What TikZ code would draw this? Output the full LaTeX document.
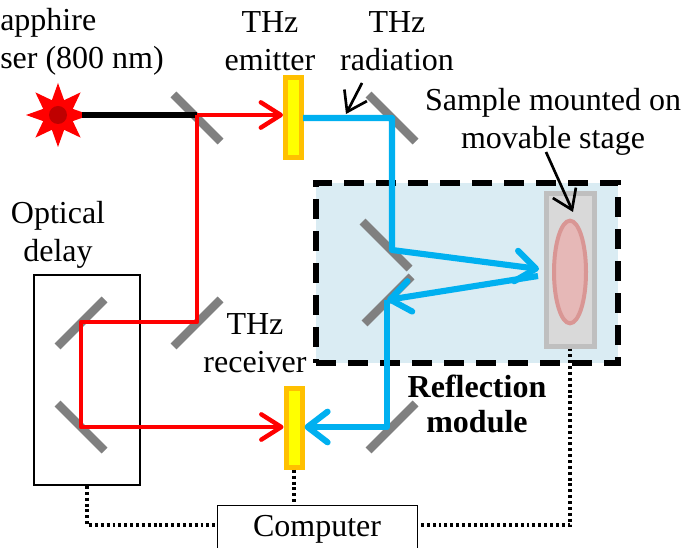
\documentclass[tikz,border=0pt]{standalone}
\usepackage{fontspec}
\setmainfont{Liberation Serif}
\usetikzlibrary{arrows.meta,shapes.geometric}
\definecolor{beamred}{RGB}{255,0,0}
\definecolor{beamblue}{RGB}{0,176,240}
\definecolor{modulefill}{RGB}{218,236,243}
\definecolor{antborder}{RGB}{255,192,0}
\definecolor{antfill}{RGB}{255,255,0}
\definecolor{stageborder}{RGB}{191,191,191}
\definecolor{stagefill}{RGB}{217,217,217}
\definecolor{sampleborder}{RGB}{217,150,148}
\definecolor{samplefill}{RGB}{230,184,183}

\begin{document}
\begin{tikzpicture}[x=0.75pt,y=-0.75pt,
  font=\fontsize{24}{28.5}\selectfont,
  txt/.style={inner sep=0pt,align=center},
  mirror/.style={draw=black!50,line width=6.2pt},
  redbeam/.style={draw=beamred,line width=3.3pt},
  bluebeam/.style={draw=beamblue,line width=4.6pt},
  redtip/.style={-{Straight Barb[length=15pt,width=19pt,round,line width=3.3pt]}},
  bluetip/.style={-{Straight Barb[length=15pt,width=23pt,round,line width=4.6pt]}},
  pointer/.style={black,line width=2pt,-{Straight Barb[length=14pt,width=19pt]}},
  antenna/.style={draw=antborder,fill=antfill,line width=3.75pt,minimum width=12pt,inner sep=0pt},
  wire/.style={black,line width=2.5pt,dash pattern=on 2.2pt off 2.2pt}]
  \clip[use as bounding box] (0,0) rectangle (684,548);

  % ===== reflection module, boxes =====
  \node[draw=black,fill=modulefill,line width=4.2pt,dash pattern=on 15pt off 9pt,inner sep=0pt,
    minimum width=226.5pt,minimum height=135pt] (module) at (467,273) {};
  \node[draw=black,line width=1.5pt,inner sep=0pt,minimum width=79.5pt,minimum height=157.5pt] (delay) at (87,380) {};
  \node[draw=stageborder,fill=stagefill,line width=3.75pt,inner sep=0pt,minimum width=36pt,minimum height=114pt] (stage) at (570,270) {};
  \node[ellipse,draw=sampleborder,fill=samplefill,line width=3pt,inner sep=0pt,minimum width=24pt,minimum height=77pt] (sample) at (570,272) {};
  \node[draw=black,line width=1.1pt,inner sep=0pt,minimum width=150pt,minimum height=60pt,anchor=north west] (computer) at (217,505) {};

  % ===== mirrors =====
  \foreach \mx/\my/\ms in {197/118/1,197/323/-1,81/323/-1,81/427/1,392/118/1,392/427/-1,386/245/1,388/300/-1}{
    \draw[mirror] (\mx-23.5,\my-23.5*\ms) -- (\mx+23.5,\my+23.5*\ms);
  }

  % ===== laser and antennas =====
  \node[star,star points=8,star point ratio=2,fill=beamred,inner sep=0pt,minimum size=48pt] (laser) at (58,115) {};
  \node[circle,fill=red!75!black,inner sep=0pt,minimum size=13.5pt] (laserdot) at (58,115) {};
  \node[antenna,minimum height=60pt] (emitter) at (293.5,117.5) {};
  \node[antenna,minimum height=59pt] (receiver) at (294,428) {};

  % ===== beam corners =====
  \coordinate (laserout) at (82,115);
  \coordinate (splitA) at (197,115);
  \coordinate (splitB) at (197,322);
  \coordinate (delayA) at (81,322);
  \coordinate (delayB) at (81,427);
  \coordinate (thzA) at (392,118);
  \coordinate (thzB) at (392,250);
  \coordinate (thzC) at (387,300);
  \coordinate (thzD) at (387,427);
  \coordinate (stageA) at (539,269);
  \coordinate (stageB) at (538,276);
  \coordinate (emitterout) at (303,118);

  % ===== beams =====
  \draw[black,line width=4.5pt] (laserout) -- (splitA);
  \draw[redbeam,redtip] (splitA) -- (splitA -| emitter.west);
  \draw[redbeam,redtip,line join=round] (splitA) -- (splitB) -- (delayA) -- (delayB) -- (delayB -| receiver.west);
  \draw[bluebeam,bluetip,line join=round] (emitterout) -- (thzA) -- (thzB) -- (stageA);
  \draw[bluebeam,bluetip] (stageB) -- (thzC);
  \draw[bluebeam,bluetip,line join=round] (thzC) -- (thzD) -- (thzD -| receiver.east);

  % ===== texts =====
  \node[txt,align=left,anchor=west] (lasertext) at (0,42) {apphire\\ser (800 nm)};
  \node[txt] (emittertext) at (270,41) {THz\\emitter};
  \node[txt] (radiationtext) at (397,41) {THz\\radiation};
  \node[txt] (sampletext) at (553,122) {Sample mounted on\\movable stage};
  \node[txt] (delaytext) at (58,235) {Optical\\delay};
  \node[txt] (receivertext) at (255,343) {THz\\receiver};
  \node[txt,font=\fontsize{24}{26.5}\selectfont\bfseries] (moduletext) at (477,404) {Reflection\\module};
  \node[txt] (computertext) at (317,529) {Computer};

  % ===== pointers =====
  \coordinate (radiationfoot) at (362,83);
  \coordinate (radiationtip) at (346,114);
  \coordinate (samplefoot) at (546,152);
  \coordinate (sampletip) at (573,212);
  \draw[pointer] (radiationfoot) -- (radiationtip);
  \draw[pointer] (samplefoot) -- (sampletip);

  % ===== control wires =====
  \draw[wire] (delay.south) |- (computer.west |- 0,525);
  \draw[wire] (receiver.south) -- (receiver.south |- computer.north);
  \draw[wire] (stage.south) |- (computer.east |- 0,525);
\end{tikzpicture}
\end{document}
